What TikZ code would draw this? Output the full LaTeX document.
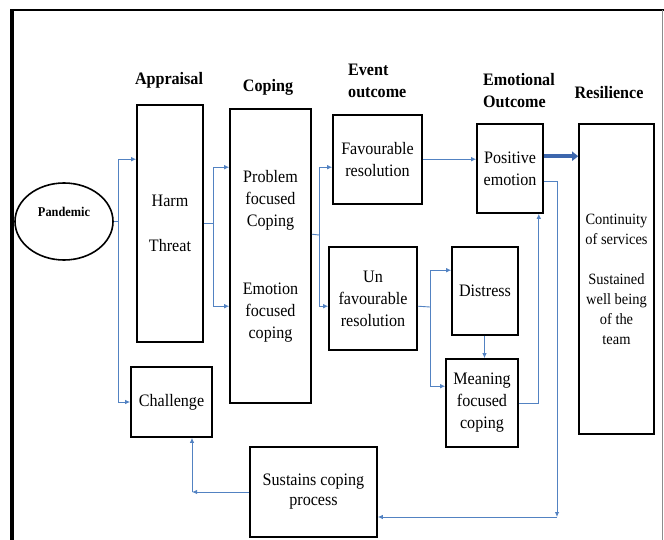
\documentclass[tikz,border=0pt]{standalone}
\usepackage{fontspec}
\setmainfont{Liberation Serif}[FakeStretch=0.92]
\usetikzlibrary{shapes.geometric,arrows.meta,calc}
\definecolor{connblue}{HTML}{5282C2}
\definecolor{thickblue}{HTML}{3D67AD}
\newcommand{\bodyfont}{\fontsize{17.5}{22}\selectfont}
\newcommand{\headfont}{\fontsize{17.5}{22}\selectfont\bfseries}
\begin{document}
\begin{tikzpicture}[x=1pt,y=-1pt,
  box/.style={draw, line width=1.6pt, inner sep=0pt, align=center, font=\bodyfont},
  head/.style={inner sep=0pt, font=\headfont},
  conn/.style={draw=connblue, line width=0.9pt},
  tip/.style={-{Latex[length=5pt,width=4.5pt]}}]
\useasboundingbox (0,0) rectangle (664,540);
% frame
\draw[line width=4pt] (12,540) -- (12,9);
\draw[line width=2pt] (10,10) -- (664,10);
\draw[black!45, line width=0.8pt] (662,10) -- (662,540);
% headers
\node[head] (hApp) at (169,80) {Appraisal};
\node[head] (hCop) at (268,87) {Coping};
\node[head, align=left, anchor=west] (hEvt) at (348,81) {Event\\outcome};
\node[head, align=left, anchor=west] (hEmo) at (483,91) {Emotional\\Outcome};
\node[head] (hRes) at (609,93) {Resilience};
% nodes
\node[ellipse, draw, line width=1.6pt, minimum width=98pt, minimum height=77pt, inner sep=0pt] (pand) at (64,221.5) {};
\node[inner sep=0pt, font=\fontsize{13.4}{16}\selectfont\bfseries] (pandtxt) at (64,212) {Pandemic};
\node[box, minimum width=66pt, minimum height=237pt] (harm) at (170,223.5) {Harm\\[23pt]Threat};
\node[box, minimum width=81pt, minimum height=294pt] (coping) at (270.5,256) {Problem\\focused\\Coping\\[46pt]Emotion\\focused\\coping};
\node[box, minimum width=81pt, minimum height=70pt] (chal) at (171.5,402) {Challenge};
\node[box, minimum width=127pt, minimum height=90pt, font=\fontsize{17.5}{20}\selectfont] (sust) at (313.5,492) {Sustains coping\\process};
\node[box, minimum width=89pt, minimum height=89pt] (fav) at (377.5,159.5) {Favourable\\resolution};
\node[box, minimum width=88pt, minimum height=103pt] (unfav) at (373,298.5) {Un\\favourable\\resolution};
\node[box, minimum width=66pt, minimum height=88pt] (dist) at (485,291) {Distress};
\node[box, minimum width=72pt, minimum height=88pt] (mean) at (482,403) {Meaning\\focused\\coping};
\node[box, minimum width=66pt, minimum height=89pt] (pos) at (510,168.5) {Positive\\emotion};
\node[box, minimum width=75pt, minimum height=310pt, font=\fontsize{15.7}{20}\selectfont] (res) at (616.5,279) {Continuity\\of services\\[20pt]Sustained\\well being\\of the\\team};
% connectors
\coordinate (j1) at (118,221.5);
\draw[conn] (pand.east) -- (j1);
\draw[conn,tip] (j1) |- ($(harm.north west)+(0,55)$);
\draw[conn,tip] (j1) |- (chal.west);
\coordinate (j2) at (213,223.5);
\draw[conn] (harm.east) -- (j2);
\draw[conn,tip] (j2) |- ($(coping.north west)+(0,59)$);
\draw[conn,tip] (j2) |- ($(coping.north west)+(0,198)$);
\coordinate (p3) at ($(coping.north east)+(0,126)$);
\coordinate (j3) at (319,235);
\draw[conn] (p3) -- (j3);
\draw[conn,tip] (j3) |- ($(fav.north west)+(0,53)$);
\draw[conn,tip] (j3) |- ($(unfav.north west)+(0,60)$);
\coordinate (p4) at ($(fav.north east)+(0,45)$);
\draw[conn,tip] (p4) -- (p4 -| pos.west);
\coordinate (p5) at ($(unfav.north east)+(0,60)$);
\coordinate (j5) at (430,307);
\draw[conn] (p5) -- (j5);
\draw[conn,tip] (j5) |- ($(dist.north west)+(0,24)$);
\draw[conn,tip] (j5) |- ($(mean.north west)+(0,28)$);
\coordinate (p6) at ($(dist.south)+(-0.5,0)$);
\draw[conn,tip] (p6) -- (p6 |- mean.north);
\draw[conn,tip] (mean.east) -| ($(pos.south east)+(-5,0)$);
\coordinate (t1) at ($(pos.north east)+(0,33)$);
\draw[thickblue, line width=4.5pt, -{Triangle[length=6pt,width=9pt]}] (t1) -- (t1 -| res.west);
\coordinate (p9) at ($(pos.north east)+(0,58)$);
\coordinate (j9) at (557,517);
\draw[conn,tip] (p9) -| (j9);
\draw[conn,tip] (j9) -- (j9 -| sust.east);
\coordinate (j10) at (192,492);
\draw[conn,tip] (sust.west) -- (j10);
\draw[conn,tip] (j10) -- (j10 |- chal.south);
\end{tikzpicture}
\end{document}
